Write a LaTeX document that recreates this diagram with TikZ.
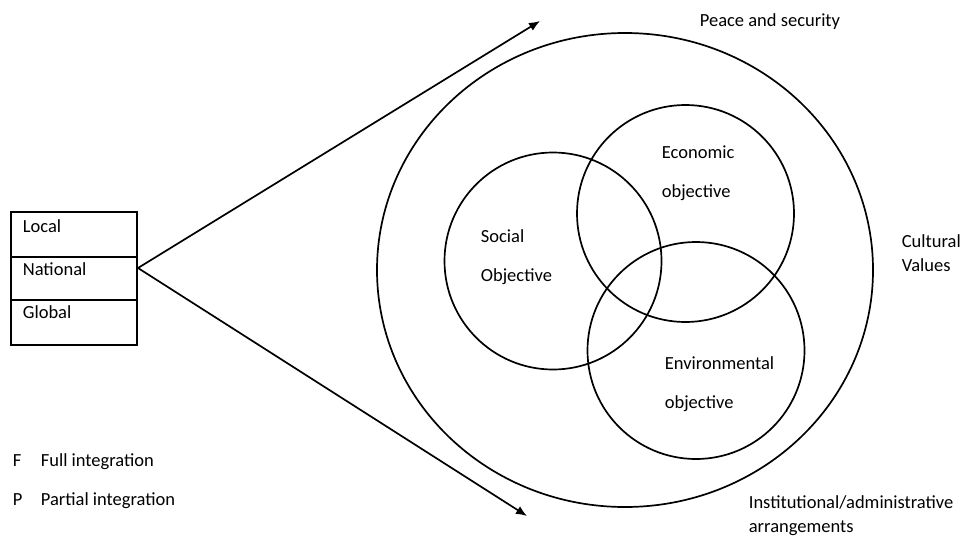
\documentclass[tikz,border=0pt]{standalone}
\usepackage{fontspec}
\setmainfont{Carlito}
\usetikzlibrary{positioning,shapes.geometric,arrows.meta}

\begin{document}
\begin{tikzpicture}[x=1pt,y=-1pt,line width=1.7pt,
  font=\fontsize{18.5}{39}\selectfont,
  cell/.style={draw, minimum width=126pt, inner sep=0pt, outer sep=0pt},
  ring/.style={draw, circle, minimum size=217pt, inner sep=0pt},
  txt/.style={anchor=base west, align=left, inner sep=0pt},
  tight/.style={font=\fontsize{18.5}{24}\selectfont},
  arrow/.style={-{Latex[length=11pt,width=9pt]}}]
  \useasboundingbox (0,0) rectangle (960,538);

  % levels box
  \node[cell, minimum height=45pt] (local) at (74,234.5) {};
  \node[cell, minimum height=43pt, below=0pt of local] (national) {};
  \node[cell, minimum height=45pt, below=0pt of national] (global) {};
  \node[txt] (localtxt) at (22,232) {Local};
  \node[txt] (nationaltxt) at (22,275) {National};
  \node[txt] (globaltxt) at (22,318) {Global};

  % spreading lines
  \coordinate (apex) at (138,268);
  \coordinate (up) at (540,21);
  \coordinate (down) at (527,516);
  \draw[arrow] (apex) -- (up);
  \draw[arrow] (apex) -- (down);

  % circles
  \node[draw, ellipse, minimum width=496pt, minimum height=474pt, inner sep=0pt] (world) at (625,270) {};
  \node[ring] (social) at (553,261) {};
  \node[ring] (econ) at (685.5,213.5) {};
  \node[ring] (env) at (696,350.5) {};

  % base is the last line
  \node[txt] (socialtxt) at (480,281) {Social\\Objective};
  \node[txt] (econtxt) at (661,197) {Economic\\objective};
  \node[txt] (envtxt) at (664,408) {Environmental\\objective};

  % outer texts
  \node[txt] (peace) at (699,27) {Peace and security};
  \node[txt, tight] (culture) at (901,271) {Cultural\\Values};
  \node[txt, tight] (inst) at (748,532) {Institutional/administrative\\arrangements};

  % legend
  \node[txt] (full) at (12,466) {\makebox[28pt][l]{F}Full integration};
  \node[txt] (partial) at (12,505) {\makebox[28pt][l]{P}Partial integration};
\end{tikzpicture}
\end{document}
